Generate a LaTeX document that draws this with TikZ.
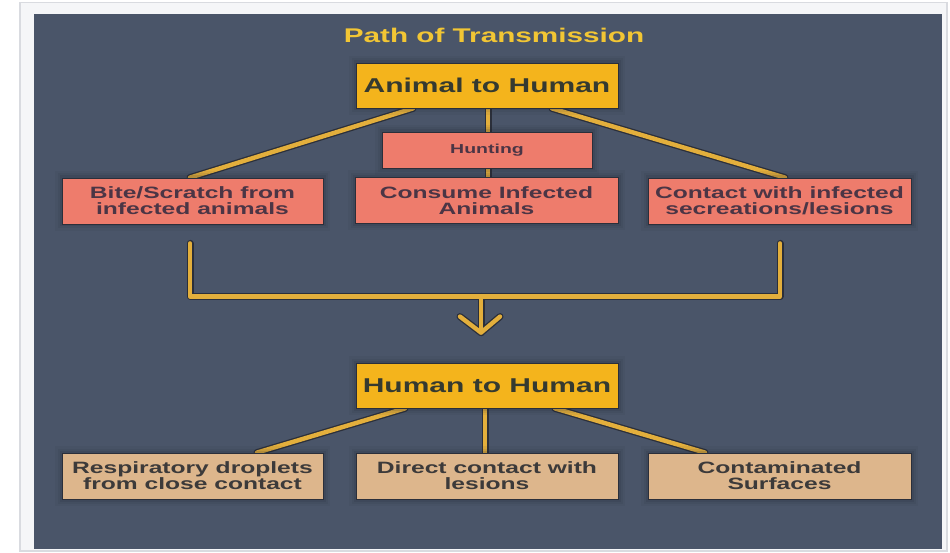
\documentclass[tikz,border=0pt]{standalone}
\usepackage{fontspec}
\newfontfamily\wfont[FakeStretch=1.5]{Liberation Sans Bold}
\usetikzlibrary{calc}
\pgfdeclarelayer{bg}
\pgfdeclarelayer{wires}
\pgfsetlayers{bg,wires,main}

\definecolor{panel}{HTML}{4A5569}
\definecolor{framegray}{HTML}{D9DBE0}
\definecolor{offwhite}{HTML}{F5F6F8}
\definecolor{amber}{HTML}{F4B41C}
\definecolor{salmon}{HTML}{EE7C6C}
\definecolor{tan}{HTML}{DDB68C}
\definecolor{gold}{HTML}{E3AF3C}
\definecolor{titlegold}{HTML}{F2C634}
\definecolor{edge}{HTML}{2B2F3A}
\definecolor{glow}{HTML}{1E2330}
\definecolor{inkdark}{HTML}{353A30}
\definecolor{inkplum}{HTML}{4B3545}
\definecolor{inkgray}{HTML}{3C3A3A}

\tikzset{
  % soft dark halo built from a few translucent strokes
  halo/.style={
    preaction={draw=glow, draw opacity=0.06, line width=14pt},
    preaction={draw=glow, draw opacity=0.08, line width=9pt},
    preaction={draw=glow, draw opacity=0.12, line width=5pt}},
  box/.style={rectangle, inner sep=0pt, align=center, draw=edge, line width=0.8pt, halo},
  headbox/.style={box, fill=amber, text=inkdark, minimum width=262pt, minimum height=45pt,
    font=\wfont\fontsize{20}{22}\selectfont},
  routebox/.style={box, fill=salmon, text=inkplum, minimum height=46pt,
    font=\wfont\fontsize{16.4}{16}\selectfont},
  huntbox/.style={box, fill=salmon, text=inkplum, minimum width=210pt, minimum height=36pt,
    font=\wfont\fontsize{13}{15}\selectfont},
  spreadbox/.style={box, fill=tan, text=inkgray, minimum height=46pt,
    font=\wfont\fontsize{16.4}{16}\selectfont},
  wireedge/.style={draw=edge, line width=7pt, line cap=round, line join=round},
  wire/.style={draw=gold, line width=4.4pt, line cap=round, line join=round},
}

\begin{document}
\begin{tikzpicture}[x=1pt, y=-1pt]
  % canvas, frame and dark panel
  \begin{pgfonlayer}{bg}
    \fill[white] (0,0) rectangle (950,553);
    \fill[offwhite, draw=framegray, line width=1.5pt] (20,2.5) rectangle (947,551);
    \fill[panel] (34,14) rectangle (942,549);
  \end{pgfonlayer}
  \useasboundingbox (0,0) rectangle (950,553);

  % title
  \node[text=titlegold, font=\wfont\fontsize{19.8}{22}\selectfont] (title) at (494,35) {Path of Transmission};

  % animal-to-human branch
  \node[headbox] (a2h) at (487,85.5) {Animal to Human};
  \node[huntbox] (hunt) at (487,150) {Hunting};
  \node[routebox, minimum width=263pt] (consume) at (486.5,200.5) {Consume Infected\\Animals};
  \node[routebox, minimum width=261pt] (bite) at (192.5,201) {Bite/Scratch from\\infected animals};
  \node[routebox, minimum width=263pt] (contact) at (779.5,201) {Contact with infected\\secreations/lesions};

  % human-to-human branch
  \node[headbox] (h2h) at (487,385.5) {Human to Human};
  \node[spreadbox, minimum width=261pt] (resp) at (192.5,476) {Respiratory droplets\\from close contact};
  \node[spreadbox, minimum width=262pt] (direct) at (487,476) {Direct contact with\\lesions};
  \node[spreadbox, minimum width=263pt] (contam) at (779.5,476) {Contaminated\\Surfaces};

  % bracket and arrow points
  \coordinate (bl) at ($(bite.south)+(-2.5,19)$);
  \coordinate (br) at ($(contact.south)+(0.5,19)$);
  \coordinate (atop) at ($(bl)+(291,53)$);
  \coordinate (atip) at ($(h2h.north)+(-6,-30)$);

  % connectors: dark edge pass first, gold pass on top
  \begin{pgfonlayer}{wires}
    \foreach \st in {wireedge,wire}{
      \draw[\st] ($(a2h.south)+(-74,0)$) -- ($(bite.north)+(-2.5,0)$);
      \draw[\st] ($(a2h.south)+(65,0)$) -- ($(contact.north)+(5.5,0)$);
      \draw[\st] ($(a2h.south)+(1,0)$) -- ($(consume.north)+(1.5,0)$);
      \draw[\st] (bl) -- ++(0,53) -| (br);
      \draw[\st] (atop) -- (atip);
      \draw[\st] ($(atip)+(-21,-16)$) -- (atip) -- ($(atip)+(19,-16)$);
      \draw[\st] ($(h2h.south)+(-82,0)$) -- ($(resp.north)+(64.5,0)$);
      \draw[\st] ($(h2h.south)+(68,0)$) -- ($(contam.north)+(-74.5,0)$);
      \draw[\st] ($(h2h.south)+(-2,0)$) -- ($(direct.north)+(-2,0)$);
    }
  \end{pgfonlayer}
\end{tikzpicture}
\end{document}
